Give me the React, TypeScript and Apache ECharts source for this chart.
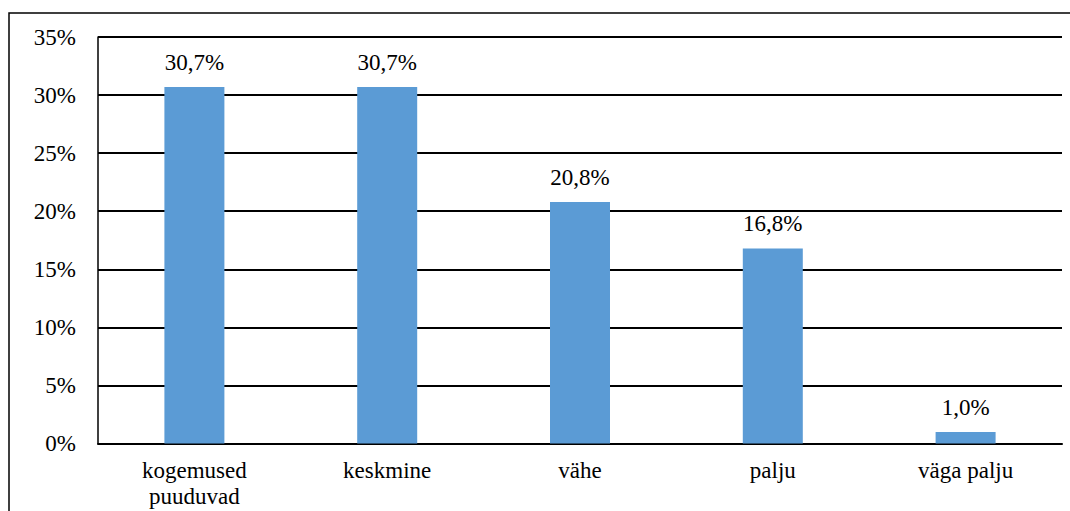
import React, { useEffect, useRef } from "react";
import * as echarts from "echarts";

const categories = ["kogemused\npuuduvad", "keskmine", "vähe", "palju", "väga palju"];
const values = [30.7, 30.7, 20.8, 16.8, 1.0];
const yTicks = [0, 5, 10, 15, 20, 25, 30, 35];

const FONT = "Liberation Serif";

export default function App() {
  const ref = useRef<HTMLDivElement>(null);
  useEffect(() => {
    if (!ref.current) return;
    const chart = echarts.init(ref.current, null, { renderer: "svg" });
    chart.setOption({
      animation: false,
      backgroundColor: "#ffffff",
      textStyle: { fontFamily: FONT },
      grid: { left: 98, right: 8, top: 37, bottom: 67.5, containLabel: false },
      graphic: [
        {
          type: "rect",
          shape: { x: 9, y: 13, width: 1080, height: 520 },
          style: { fill: "none", stroke: "#000", lineWidth: 1.5 },
          silent: true,
        },
      ],
      xAxis: {
        type: "category",
        data: categories,
        axisLine: { show: true, lineStyle: { color: "#000", width: 2 } },
        axisTick: { show: false },
        axisLabel: {
          color: "#000",
          fontFamily: FONT,
          fontSize: 23,
          lineHeight: 26,
          margin: 14,
          interval: 0,
        },
      },
      yAxis: {
        type: "value",
        min: yTicks[0],
        max: yTicks[yTicks.length - 1],
        interval: 5,
        axisLine: { show: true, lineStyle: { color: "#000", width: 1.5 } },
        axisTick: { show: false },
        splitLine: { show: true, lineStyle: { color: "#000", width: 1.8 } },
        axisLabel: {
          color: "#000",
          fontFamily: FONT,
          fontSize: 23,
          margin: 22,
          formatter: (v: number) => `${v}%`,
        },
      },
      series: [
        {
          type: "bar",
          data: values,
          barWidth: 60,
          itemStyle: { color: "#5B9BD5" },
          label: {
            show: true,
            position: "top",
            distance: 13,
            color: "#000",
            fontFamily: FONT,
            fontSize: 23,
            formatter: (p: any) => `${Number(p.value).toFixed(1).replace(".", ",")}%`,
          },
        },
      ],
    });
    return () => chart.dispose();
  }, []);
  return (
    <div
      ref={ref}
      style={{ position: "absolute", left: 0, top: 0, width: 1070, height: 511 }}
    />
  );
}
